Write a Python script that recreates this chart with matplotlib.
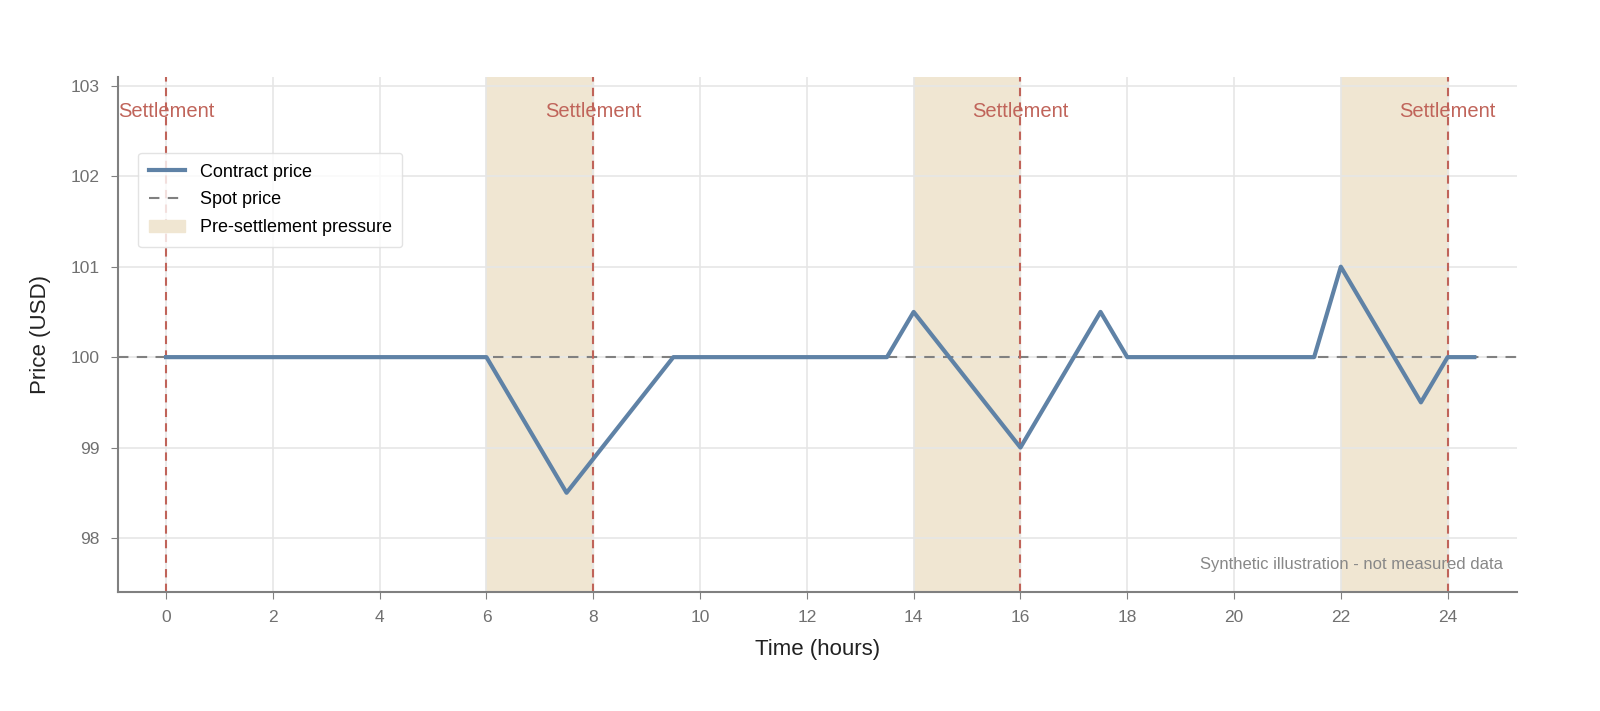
import matplotlib
matplotlib.use("Agg")
import matplotlib.pyplot as plt

plt.rcParams['font.family'] = ['Liberation Sans', 'DejaVu Sans']

time_h = [0, 6, 7.5, 9.5, 13.5, 14, 16, 17.5, 18, 21.5, 22, 23.5, 24, 24.5]
price = [100, 100, 98.5, 100, 100, 100.5, 99, 100.5, 100, 100, 101, 99.5, 100, 100]
spot = 100
settlements = [0, 8, 16, 24]
pressure = [(6, 8), (14, 16), (22, 24)]
xticks = list(range(0, 25, 2))
yticks = [98, 99, 100, 101, 102, 103]

fig = plt.figure(figsize=(16, 7.11), dpi=100)
ax = fig.add_axes([0.07375, 0.167, 0.8744, 0.725])

for i, (a, b) in enumerate(pressure):
    ax.axvspan(a, b, color='#f0e6d2', zorder=0, label='Pre-settlement pressure' if i == 0 else None)
ax.axhline(spot, color='#808080', ls=(0, (5, 4)), lw=1.5, label='Spot price', zorder=2)
ax.plot(time_h, price, color='#5f82a6', lw=3, label='Contract price', zorder=3)
for s in settlements:
    ax.axvline(s, color='#c0645a', ls=(0, (4, 3)), lw=1.5, zorder=2)
    ax.text(s, 102.72, 'Settlement', color='#c0645a', ha='center', va='center', fontsize=14.5)

ax.set_xlim(-0.9, 25.3)
ax.set_ylim(97.4, 103.1)
ax.set_xticks(xticks)
ax.set_yticks(yticks)
ax.grid(True, color='#e6e6e6', lw=1.2, zorder=0)
ax.set_axisbelow(True)
for sp in ['top', 'right']:
    ax.spines[sp].set_visible(False)
for sp in ['left', 'bottom']:
    ax.spines[sp].set_color('#808080')
    ax.spines[sp].set_linewidth(1.5)
ax.tick_params(colors='#808080', labelsize=12.5, length=5, pad=8)
for lbl in ax.get_xticklabels() + ax.get_yticklabels():
    lbl.set_color('#707070')
ax.set_xlabel('Time (hours)', fontsize=16, color='#222222', labelpad=10)
ax.set_ylabel('Price (USD)', fontsize=16, color='#222222', labelpad=14)
ax.text(0.99, 0.04, 'Synthetic illustration - not measured data', transform=ax.transAxes,
        ha='right', va='bottom', fontsize=12, color='#888888')

h, l = ax.get_legend_handles_labels()
order = [l.index('Contract price'), l.index('Spot price'), l.index('Pre-settlement pressure')]
leg = ax.legend([h[i] for i in order], [l[i] for i in order], loc='upper left',
                bbox_to_anchor=(0.008, 0.87), fontsize=13, frameon=True, fancybox=True,
                borderpad=0.6, labelspacing=0.6)
leg.get_frame().set_edgecolor('#dddddd')

fig.savefig('out.png', dpi=100)
